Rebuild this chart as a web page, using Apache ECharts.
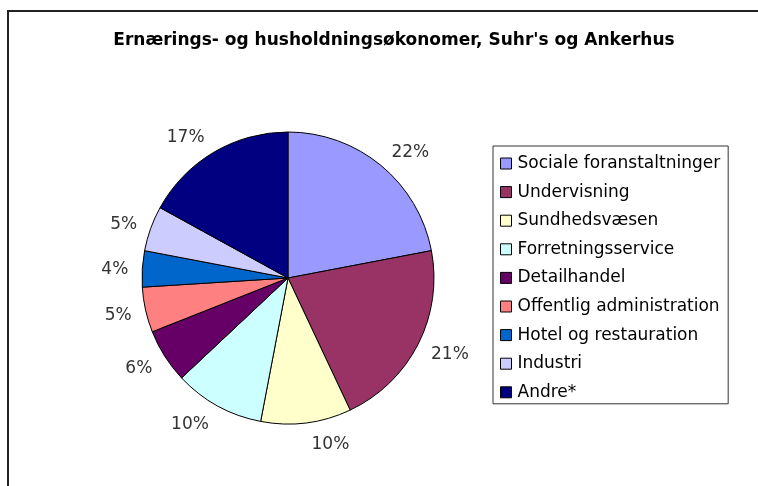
<!DOCTYPE html>
<html>
<head>
<meta charset="utf-8">
<script src="https://cdn.jsdelivr.net/npm/echarts@6/dist/echarts.min.js"></script>
<style>
html,body{margin:0;padding:0;background:#fff;}
#c{width:758px;height:486px;}
</style>
</head>
<body>
<div id="c"></div>
<script>
const titleText = "Ernærings- og husholdningsøkonomer, Suhr's og Ankerhus";
const categories = ["Sociale foranstaltninger","Undervisning","Sundhedsvæsen","Forretningsservice","Detailhandel","Offentlig administration","Hotel og restauration","Industri","Andre*"];
const values = [22, 21, 10, 10, 6, 5, 4, 5, 17];
const colors = ["#9999FF","#993366","#FFFFCC","#CCFFFF","#660066","#FF8080","#0066CC","#CCCCFF","#000080"];

const CX = 288, CY = 278;
const chart = echarts.init(document.getElementById('c'), null, {renderer:'canvas'});
const font = '"DejaVu Sans", Verdana, sans-serif';
chart.setOption({
  animation: false,
  backgroundColor: '#fff',
  color: colors,
  graphic: [{
    type: 'rect', silent: true,
    shape: {x: 8, y: 11, width: 800, height: 600},
    style: {fill: 'none', stroke: '#222', lineWidth: 2}
  }],
  title: {
    text: titleText, left: 389, top: 27, textAlign: 'center',
    textStyle: {fontFamily: '"DejaVu Sans", sans-serif', fontWeight: 'bold', fontSize: 17, color: '#000'}
  },
  legend: {
    orient: 'vertical', left: 493, top: 146,
    padding: [9, 8, 3, 7],
    borderColor: '#333', borderWidth: 1,
    itemWidth: 11, itemHeight: 11, itemGap: 11.6,
    icon: 'rect',
    itemStyle: {borderColor: '#000', borderWidth: 1},
    textStyle: {fontFamily: font, fontSize: 17, lineHeight: 17, color: '#000', padding: [0,0,0,1]},
    data: categories
  },
  series: [{
    type: 'pie',
    center: [CX, CY],
    radius: 146,
    startAngle: 90,
    clockwise: true,
    avoidLabelOverlap: false,
    itemStyle: {borderColor: '#000', borderWidth: 1},
    label: {
      show: true, position: 'outside', distanceToLabelLine: 4,
      fontFamily: font, fontSize: 17, color: '#333',
      formatter: p => Math.round(p.percent) + '%'
    },
    labelLine: {show: false, length: 10, length2: 0},
    labelLayout: function (p) {
      const r = p.labelRect;
      const lx = r.x + r.width / 2 - CX, ly = r.y + r.height / 2 - CY;
      const t = ly / Math.sqrt(lx * lx + ly * ly);
      return {dy: 2 + 10 * t};
    },
    emphasis: {disabled: true},
    data: categories.map((n, i) => ({name: n, value: values[i]}))
  }]
});
</script>
</body>
</html>
